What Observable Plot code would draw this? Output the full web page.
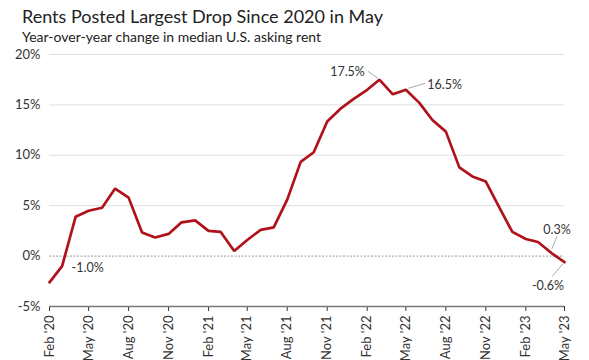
<!DOCTYPE html>
<html>
<head>
<meta charset="utf-8">
<script src="https://cdn.jsdelivr.net/npm/d3@7"></script>
<script src="https://cdn.jsdelivr.net/npm/@observablehq/plot@0.6"></script>
<style>
  html, body { margin: 0; padding: 0; background: #fff; }
  body { width: 589px; height: 360px; overflow: hidden; font-family: Lato, "Open Sans", sans-serif; }
  #title { position: absolute; left: 22px; top: 5px; font-size: 18px; color: #222; white-space: nowrap; }
  #subtitle { position: absolute; left: 22px; top: 28px; font-size: 14px; color: #222; white-space: nowrap; }
  #chart { position: absolute; left: 0; top: 46px; }
</style>
</head>
<body>
<div id="title">Rents Posted Largest Drop Since 2020 in May</div>
<div id="subtitle">Year-over-year change in median U.S. asking rent</div>
<div id="chart"></div>
<script>
const startMonth = "2020-02";
const values = [
  -2.6, -1.0, 3.9, 4.5, 4.8, 6.7, 5.8, 2.35, 1.85, 2.2,
  3.35, 3.55, 2.5, 2.4, 0.5, 1.6, 2.6, 2.85, 5.6, 9.35,
  10.3, 13.35, 14.6, 15.6, 16.5, 17.5, 16.05, 16.5, 15.2, 13.5,
  12.35, 8.8, 7.9, 7.4, 4.9, 2.4, 1.7, 1.4, 0.3, -0.6
];
const yTicks = [-5, 0, 5, 10, 15, 20];
const gridValues = [5, 10, 15, 20];
const annotations = [
  {i: 1, text: "-1.0%"},
  {i: 25, text: "17.5%"},
  {i: 27, text: "16.5%"},
  {i: 38, text: "0.3%"},
  {i: 39, text: "-0.6%"}
];

const start = d3.timeParse("%Y-%m")(startMonth);
const data = values.map((v, i) => ({date: d3.timeMonth.offset(start, i), value: v}));
const xTicks = d3.range(0, values.length, 3).map(i => d3.timeMonth.offset(start, i));
const fmt = d3.timeFormat("%b '%y");

// pixel offsets for annotation layout (style only)
const layout = {
  "-1.0%": {tx: 10, ty: 2, anchor: "start", line: null},
  "17.5%": {tx: -14, ty: -8, anchor: "end", line: [-1, -1, -11, -8]},
  "16.5%": {tx: 22, ty: -5, anchor: "start", line: [3, -1, 20, -6]},
  "0.3%": {tx: 6, ty: -23, anchor: "middle", line: [1, -4, 6, -16]},
  "-0.6%": {tx: -16, ty: 24, anchor: "middle", line: [-1, 2, -12, 15]}
};

const annotationMark = (index, scales) => {
  const g = d3.create("svg:g");
  for (const a of annotations) {
    const d = data[a.i];
    const px = scales.x(d.date), py = scales.y(d.value);
    const L = layout[a.text];
    if (L.line) {
      g.append("line")
        .attr("x1", px + L.line[0]).attr("y1", py + L.line[1])
        .attr("x2", px + L.line[2]).attr("y2", py + L.line[3])
        .attr("stroke", "#aaa").attr("stroke-width", 1);
    }
    g.append("text")
      .attr("x", px + L.tx).attr("y", py + L.ty)
      .attr("dy", "0.35em")
      .attr("text-anchor", L.anchor)
      .attr("font-size", 12.5).attr("fill", "#333")
      .text(a.text);
  }
  return g.node();
};

const chart = Plot.plot({
  width: 589,
  height: 314,
  marginLeft: 49,
  marginRight: 25,
  marginTop: 8,
  marginBottom: 54,
  style: {fontFamily: "Lato, sans-serif", fontSize: "13px", color: "#333", background: "transparent"},
  x: {
    type: "time",
    domain: [data[0].date, data[data.length - 1].date],
    ticks: xTicks,
    tickFormat: fmt,
    tickRotate: -90,
    tickSize: 5,
    label: null
  },
  y: {
    domain: [-5, 20],
    ticks: yTicks,
    tickFormat: d => d + "%",
    tickSize: 0,
    tickPadding: 9,
    label: null
  },
  marks: [
    Plot.ruleY(gridValues, {stroke: "#dedede", strokeWidth: 1}),
    Plot.ruleY([0], {stroke: "#999", strokeWidth: 1, strokeDasharray: "2,1.5"}),
    Plot.ruleY([-5], {stroke: "#777", strokeWidth: 1.5}),
    Plot.line(data, {x: "date", y: "value", stroke: "#b0121b", strokeWidth: 2.7, strokeLinejoin: "miter"}),
    annotationMark
  ]
});
document.getElementById("chart").appendChild(chart);
</script>
</body>
</html>
